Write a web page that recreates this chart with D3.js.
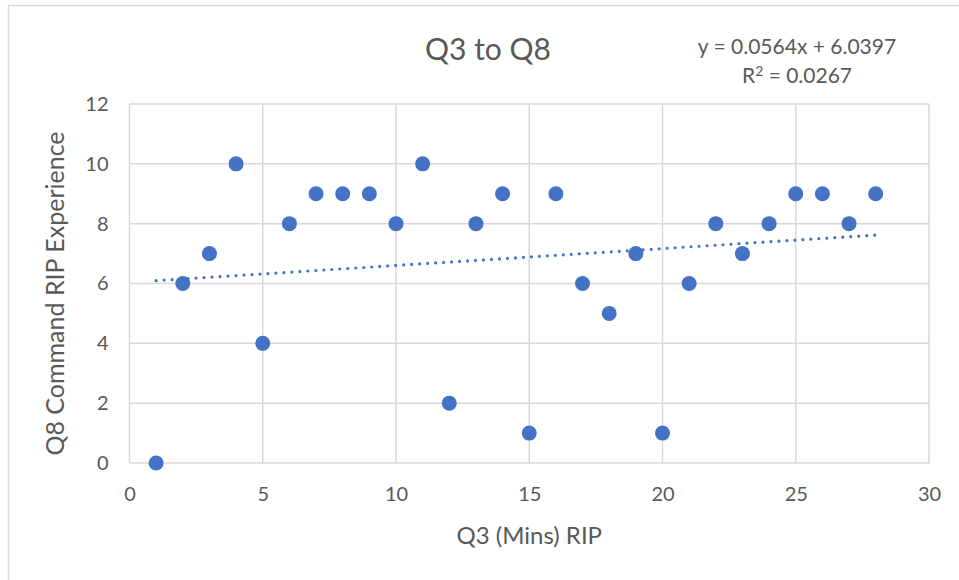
<!DOCTYPE html>
<html>
<head>
<meta charset="utf-8">
<script src="https://cdn.jsdelivr.net/npm/d3@7"></script>
<style>
  html, body { margin: 0; padding: 0; background: #fff; }
  svg { display: block; font-family: Lato, "Open Sans", sans-serif; }
</style>
</head>
<body>
<svg id="chart" width="959" height="580"></svg>
<script>
// Minutes (Q3) against command RIP experience score (Q8)
const q3Minutes = [1, 2, 3, 4, 5, 6, 7, 8, 9, 10, 11, 12, 13, 14,
                   15, 16, 17, 18, 19, 20, 21, 22, 23, 24, 25, 26, 27, 28];
const q8Scores  = [0, 6, 7, 10, 4, 8, 9, 9, 9, 8, 10, 2, 8, 9,
                   1, 9, 6, 5, 7, 1, 6, 8, 7, 8, 9, 9, 8, 9];
const xTicks = [0, 5, 10, 15, 20, 25, 30];
const yTicks = [0, 2, 4, 6, 8, 10, 12];
const trendSlope = 0.0564;
const trendIntercept = 6.0397;
const rSquared = 0.0267;

const svg = d3.select("#chart");
const textColor = "#595959";
const gridColor = "#d9d9d9";
const dotColor = "#4472c4";

// outer chart frame
svg.append("rect")
  .attr("x", 8.5).attr("y", 5.5)
  .attr("width", 1000).attr("height", 1000)
  .attr("fill", "none").attr("stroke", gridColor).attr("stroke-width", 1.5);

const x = d3.scaleLinear().domain([0, 30]).range([129.5, 929]);
const y = d3.scaleLinear().domain([0, 12]).range([463, 104]);

// gridlines
const grid = svg.append("g");
grid.selectAll("line.v").data(xTicks).join("line")
  .attr("x1", d => x(d)).attr("x2", d => x(d))
  .attr("y1", y(0)).attr("y2", y(12))
  .attr("stroke", gridColor).attr("stroke-width", 1.5);
grid.selectAll("line.h").data(yTicks).join("line")
  .attr("x1", x(0)).attr("x2", x(30))
  .attr("y1", d => y(d)).attr("y2", d => y(d))
  .attr("stroke", gridColor).attr("stroke-width", 1.5);

// axes (labels only)
const xAxis = svg.append("g").attr("transform", `translate(0,${y(0)})`)
  .call(d3.axisBottom(x).tickValues(xTicks).tickSize(0).tickPadding(24));
const yAxis = svg.append("g").attr("transform", `translate(${x(0)},0)`)
  .call(d3.axisLeft(y).tickValues(yTicks).tickSize(0).tickPadding(21));
[xAxis, yAxis].forEach(a => {
  a.select(".domain").remove();
  a.selectAll("text").attr("fill", textColor)
    .style("font-family", "Lato, sans-serif").style("font-size", "20px");
});

// trendline
svg.append("line")
  .attr("x1", x(1)).attr("y1", y(trendSlope * 1 + trendIntercept))
  .attr("x2", x(28)).attr("y2", y(trendSlope * 28 + trendIntercept))
  .attr("stroke", dotColor).attr("stroke-width", 3.2)
  .attr("stroke-linecap", "round").attr("stroke-dasharray", "0,8");

// points
svg.append("g").selectAll("circle")
  .data(q3Minutes.map((m, i) => [m, q8Scores[i]]))
  .join("circle")
  .attr("cx", d => x(d[0])).attr("cy", d => y(d[1]))
  .attr("r", 7.5).attr("fill", dotColor);

// title
svg.append("text")
  .attr("x", 488).attr("y", 60)
  .attr("text-anchor", "middle").attr("fill", textColor)
  .style("font-size", "30px").text("Q3 to Q8");

// trendline equation
svg.append("text")
  .attr("x", 797).attr("y", 54)
  .attr("text-anchor", "middle").attr("fill", textColor)
  .style("font-size", "21px")
  .text(`y = ${trendSlope}x + ${trendIntercept}`);
const r2 = svg.append("text")
  .attr("x", 797).attr("y", 83)
  .attr("text-anchor", "middle").attr("fill", textColor)
  .style("font-size", "21px");
r2.append("tspan").text("R");
r2.append("tspan").attr("dy", -7).style("font-size", "14px").text("2");
r2.append("tspan").attr("dy", 7).text(` = ${rSquared}`);

// axis titles
svg.append("text")
  .attr("x", x(15)).attr("y", 544)
  .attr("text-anchor", "middle").attr("fill", textColor)
  .style("font-size", "24px").text("Q3 (Mins) RIP");
svg.append("text")
  .attr("transform", "translate(64,293.5) rotate(-90)")
  .attr("text-anchor", "middle").attr("fill", textColor)
  .style("font-size", "25px").text("Q8 Command RIP Experience");
</script>
</body>
</html>
